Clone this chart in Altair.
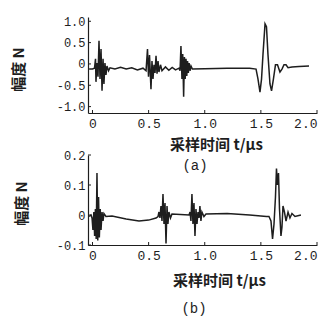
import altair as alt
import pandas as pd

# ---------------- data ----------------
# panel (a): sampling time t (us) and amplitude (N)
a_t = [-0.03, 0.0, 0.018, 0.027, 0.031, 0.04, 0.049, 0.058, 0.067, 0.076, 0.085, 0.094,
       0.102, 0.111, 0.12, 0.129, 0.143, 0.156, 0.2, 0.25, 0.3, 0.35, 0.4, 0.45, 0.477,
       0.49, 0.499, 0.508, 0.521, 0.53, 0.539, 0.548, 0.557, 0.566, 0.575, 0.584, 0.592,
       0.606, 0.619, 0.65, 0.68, 0.71, 0.74, 0.77, 0.78, 0.788, 0.797, 0.804, 0.812,
       0.819, 0.826, 0.833, 0.84, 0.847, 0.854, 0.861, 0.869, 0.878, 0.89, 1.0, 1.2,
       1.4, 1.457, 1.474, 1.492, 1.506, 1.519, 1.537, 1.55, 1.563, 1.581, 1.595, 1.612,
       1.63, 1.648, 1.67, 1.688, 1.706, 1.724, 1.742, 1.777, 1.84, 1.929]
a_v = [-0.12, -0.12, -0.1, 0.12, -0.42, 0.02, -0.3, 0.54, -0.35, 0.35, -0.63, 0.12,
       -0.47, 0.02, -0.26, -0.05, -0.16, -0.09, -0.12, -0.08, -0.12, -0.09, -0.14, -0.1, -0.16,
       0.35, -0.3, 0.21, -0.59, 0.07, -0.35, -0.02, -0.21, 0.19, -0.23, 0.07, -0.19,
       -0.02, -0.16, -0.07, -0.15, -0.08, -0.14, -0.1, -0.16, 0.42, -0.35, 0.23, -0.77,
       0.16, -0.35, 0.12, -0.28, 0.07, -0.21, 0.02, -0.16, -0.05, -0.12, -0.11, -0.1,
       -0.1, -0.12, -0.35, -0.66, -0.35, 0.23, 0.94, 0.87, 0.23, -0.47, -0.63, -0.35,
       -0.02, -0.02, -0.19, -0.12, -0.02, -0.02, -0.09, -0.07, -0.06, -0.05]

# panel (b)
b_t = [-0.03, -0.013, -0.004, 0.004, 0.012, 0.019, 0.026, 0.033, 0.04, 0.047, 0.054,
       0.061, 0.069, 0.076, 0.085, 0.094, 0.102, 0.12, 0.174, 0.3, 0.414, 0.5, 0.566,
       0.584, 0.592, 0.601, 0.61, 0.619, 0.628, 0.637, 0.646, 0.655, 0.664, 0.672, 0.681,
       0.695, 0.708, 0.86, 0.869, 0.877, 0.886, 0.895, 0.904, 0.913, 0.922, 0.931, 0.94,
       0.949, 0.957, 0.966, 0.975, 0.993, 1.011, 1.2, 1.4, 1.55, 1.572, 1.59, 1.604,
       1.617, 1.63, 1.639, 1.648, 1.657, 1.666, 1.679, 1.688, 1.697, 1.71, 1.724, 1.742,
       1.759, 1.777, 1.804, 1.857]
b_v = [-0.005, 0.0, -0.01, -0.05, 0.01, -0.07, 0.02, -0.08, 0.14, -0.085, 0.06,
       -0.075, 0.02, -0.05, 0.01, -0.02, 0.005, -0.005, -0.003, -0.013, -0.02, -0.017, -0.01,
       -0.005, 0.01, -0.01, 0.03, -0.02, 0.07, -0.03, 0.04, -0.095, 0.03, -0.03, 0.01,
       -0.01, 0.003, 0.0, 0.01, -0.02, 0.07, -0.03, 0.04, -0.07, 0.02, -0.03, 0.01,
       -0.01, 0.03, -0.02, 0.01, -0.005, 0.003, 0.005, 0.0, -0.005, -0.005, -0.02, -0.08,
       -0.03, 0.06, 0.155, 0.1, 0.14, 0.02, -0.07, -0.04, 0.03, 0.01, -0.02, 0.01,
       -0.01, 0.005, -0.005, 0.0]

x_ticks = [0, 0.5, 1.0, 1.5, 2.0]
a_y_ticks = [-1.0, -0.5, 0, 0.5, 1.0]
b_y_ticks = [-0.1, 0, 0.1, 0.2]
x_title = "采样时间   t/μs"
y_title = "幅度 N"
captions = ["(a)", "(b)"]

INK = "#1e1e1e"
W = 229
X_DOMAIN = [-0.04, 2.0]
LABEL_EXPR = "datum.value == 0 ? '0' : replace(format(datum.value, '.1f'), '\u2212', '-')"


def panel(t, v, ydom, yticks, H, xt_xy, yt_xy, cap, cap_xy):
    xs = alt.Scale(domain=X_DOMAIN, nice=False, zero=False)
    ys = alt.Scale(domain=ydom, nice=False, zero=False)
    xa = alt.Axis(
        values=x_ticks, labelExpr=LABEL_EXPR, title=x_title, labelOverlap=False,
        labelFontSize=13, titleFontSize=15,
        titleX=xt_xy[0], titleY=xt_xy[1], titleAlign="center", titleBaseline="middle")
    ya = alt.Axis(
        values=yticks, labelExpr=LABEL_EXPR, title=y_title, labelOverlap=False,
        labelFontSize=12, labelPadding=3, titleFontSize=15,
        titleX=yt_xy[0], titleY=yt_xy[1], titleAlign="center", titleBaseline="middle",
        titleAngle=270)
    df = pd.DataFrame({"t": t, "v": v})
    line = alt.Chart(df).mark_line(color=INK, strokeWidth=1.5, clip=True).encode(
        x=alt.X("t:Q", scale=xs, axis=xa),
        y=alt.Y("v:Q", scale=ys, axis=ya),
    )
    xt = alt.Chart(pd.DataFrame({"t": x_ticks})).mark_rule(color=INK, strokeWidth=1).encode(
        x=alt.X("t:Q", scale=xs, axis=xa), y=alt.value(H), y2=alt.value(H - 3))
    yt = alt.Chart(pd.DataFrame({"v": yticks})).mark_rule(color=INK, strokeWidth=1).encode(
        y=alt.Y("v:Q", scale=ys, axis=ya), x=alt.value(0), x2=alt.value(3))
    cp = alt.Chart(pd.DataFrame({"c": [cap]})).mark_text(
        font="Liberation Mono", fontSize=14, color=INK, align="center", baseline="middle"
    ).encode(text="c:N", x=alt.value(cap_xy[0]), y=alt.value(cap_xy[1]))
    return alt.layer(line, xt, yt, cp).properties(width=W, height=H)


top = panel(a_t, a_v, [-1.15, 1.1], a_y_ticks, 96, (128, 31), (-70, 52), captions[0], (107, 149))
bot = panel(b_t, b_v, [-0.1, 0.2], b_y_ticks, 90, (131, 35), (-67, 48), captions[1], (106, 154))

chart = alt.vconcat(top, bot, spacing=42, bounds="flush").properties(
    padding={"left": 3, "top": 7, "right": 4, "bottom": 0}
).configure_view(stroke=None).configure_axis(
    grid=False, ticks=False, domainColor=INK, domainWidth=1.2, labelOverlap=False,
    labelFont="Liberation Mono", labelColor=INK, labelPadding=4,
    titleFont="Noto Sans CJK SC", titleFontWeight="bold", titleColor=INK,
)

chart.save("out.html", embed_options={"renderer": "svg", "actions": False})
